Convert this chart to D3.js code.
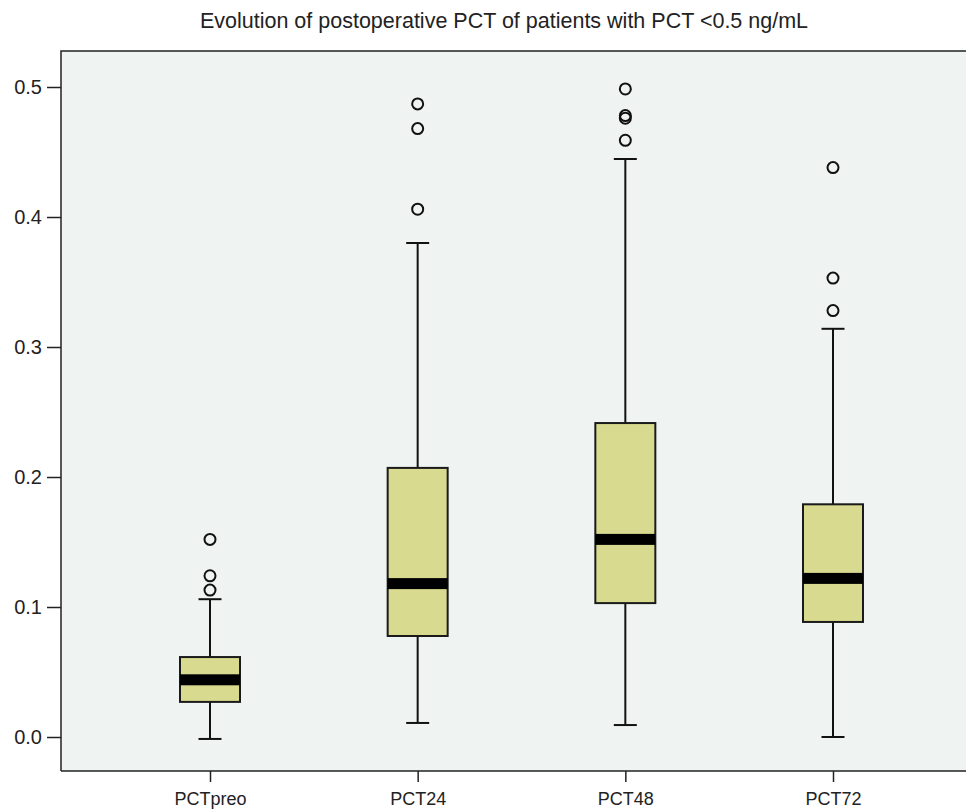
<!DOCTYPE html>
<html><head><meta charset="utf-8">
<script src="https://cdn.jsdelivr.net/npm/d3@7"></script>
<style>body{margin:0;background:#fff}svg{display:block}text{font-family:"Liberation Sans",Arial,sans-serif}</style>
</head><body><svg id="c" width="966" height="810"></svg>
<script>
const categories = ["PCTpreo","PCT24","PCT48","PCT72"];
const q1 = [0.027, 0.0777, 0.103, 0.0885];
const medians = [0.044, 0.118, 0.152, 0.122];
const q3 = [0.0615, 0.207, 0.2415, 0.179];
const whiskLow = [-0.0015, 0.0108, 0.0092, 0.0];
const whiskHigh = [0.106, 0.380, 0.4446, 0.314];
const outliers = [[0.152, 0.124, 0.113],[0.487, 0.468, 0.406],[0.4985, 0.478, 0.476, 0.459],[0.438, 0.353, 0.328]];
const yTicks = [0.0, 0.1, 0.2, 0.3, 0.4, 0.5];
const title = "Evolution of postoperative PCT of patients with PCT <0.5 ng/mL";

const svg = d3.select("#c");
const L = 61, T = 51, R = 966, B = 771;
const y = d3.scaleLinear().domain([0, 0.5]).range([737, 87]);
const x = d3.scalePoint().domain(categories).range([210, 833]);
const boxW = 60, capW = 23, medH = 11;

svg.append("rect").attr("x", L).attr("y", T).attr("width", R - L).attr("height", B - T).attr("fill", "#eff3f2");
svg.append("path").attr("d", `M${L},${B}V${T}H${R}`).attr("fill", "none").attr("stroke", "#222").attr("stroke-width", 1.5);

svg.append("text").attr("x", 504).attr("y", 28).attr("text-anchor", "middle").attr("font-size", 21.5).attr("fill", "#222").text(title);

// y axis
const ya = svg.append("g").attr("transform", `translate(${L},0)`)
  .call(d3.axisLeft(y).tickValues(yTicks).tickFormat(d3.format(".1f")).tickSize(14).tickPadding(5));
ya.select(".domain").remove();
ya.selectAll("line").attr("stroke", "#222").attr("stroke-width", 1.5);
ya.selectAll("text").attr("font-size", 20).attr("fill", "#222").attr("font-family", '"Liberation Sans",Arial,sans-serif');

// x axis
const xa = svg.append("g").attr("transform", `translate(0,${B})`)
  .call(d3.axisBottom(x).tickSize(11).tickPadding(10));
xa.select(".domain").attr("d", `M${L},0H${R}`).attr("stroke", "#222").attr("stroke-width", 1.5);
xa.selectAll("line").attr("stroke", "#222").attr("stroke-width", 1.5);
xa.selectAll("text").attr("font-size", 18).attr("fill", "#222").attr("font-family", '"Liberation Sans",Arial,sans-serif');

categories.forEach((c, i) => {
  const cx = x(c);
  const g = svg.append("g");
  g.append("line").attr("x1", cx).attr("x2", cx).attr("y1", y(whiskHigh[i])).attr("y2", y(q3[i])).attr("stroke", "#111").attr("stroke-width", 2);
  g.append("line").attr("x1", cx).attr("x2", cx).attr("y1", y(q1[i])).attr("y2", y(whiskLow[i])).attr("stroke", "#111").attr("stroke-width", 2);
  [whiskHigh[i], whiskLow[i]].forEach(v => g.append("line").attr("x1", cx - capW / 2).attr("x2", cx + capW / 2).attr("y1", y(v)).attr("y2", y(v)).attr("stroke", "#111").attr("stroke-width", 2));
  g.append("rect").attr("x", cx - boxW / 2).attr("y", y(q3[i])).attr("width", boxW).attr("height", y(q1[i]) - y(q3[i]))
    .attr("fill", "#d8da90").attr("stroke", "#1a1a1a").attr("stroke-width", 2);
  g.append("rect").attr("x", cx - boxW / 2).attr("y", y(medians[i]) - medH / 2).attr("width", boxW).attr("height", medH).attr("fill", "#000");
  g.selectAll("circle.o").data(outliers[i]).join("circle").attr("cx", cx).attr("cy", d => y(d)).attr("r", 5.5)
    .attr("fill", "none").attr("stroke", "#111").attr("stroke-width", 2);
});
</script></body></html>
